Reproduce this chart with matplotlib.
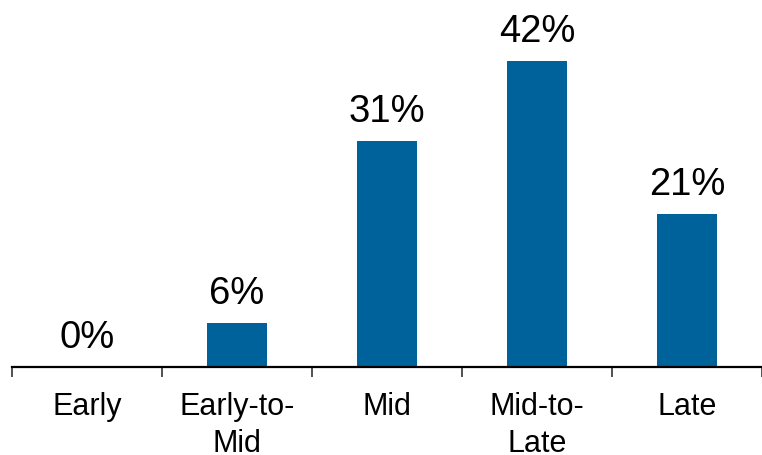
import matplotlib
matplotlib.use("Agg")
import matplotlib.pyplot as plt
import numpy as np

plt.rcParams['font.family'] = ['Liberation Sans', 'DejaVu Sans']

categories = ['Early', 'Early-to-\nMid', 'Mid', 'Mid-to-\nLate', 'Late']
shares = [0, 6, 31, 42, 21]

fig = plt.figure(figsize=(7.62, 4.55), dpi=100)
ax = fig.add_axes([12 / 762, 88 / 455, 750 / 762, 367 / 455])

x = np.arange(len(categories))
ax.bar(x, shares, width=0.4, color='#00629B')

for xi, v in zip(x, shares):
    ax.annotate(f'{v}%', (xi, v), xytext=(0, 8), textcoords='offset points',
                ha='center', va='bottom', fontsize=27.5)

ax.set_xlim(-0.5, len(categories) - 0.5)
ax.set_ylim(0, 50.35)

# boundary ticks between categories, labels sit at the centres
ax.set_xticks(np.arange(len(categories) + 1) - 0.5)
ax.set_xticklabels([])
ax.set_xticks(x, minor=True)
ax.set_xticklabels(categories, minor=True, fontsize=22, linespacing=1.3)
ax.tick_params(axis='x', which='major', length=7.5, width=1.2, color='#333333')
ax.tick_params(axis='x', which='minor', length=0, pad=18)

ax.set_yticks([])
for side in ['left', 'right', 'top']:
    ax.spines[side].set_visible(False)
ax.spines['bottom'].set_linewidth(1.6)

fig.savefig('out.png', dpi=100)
